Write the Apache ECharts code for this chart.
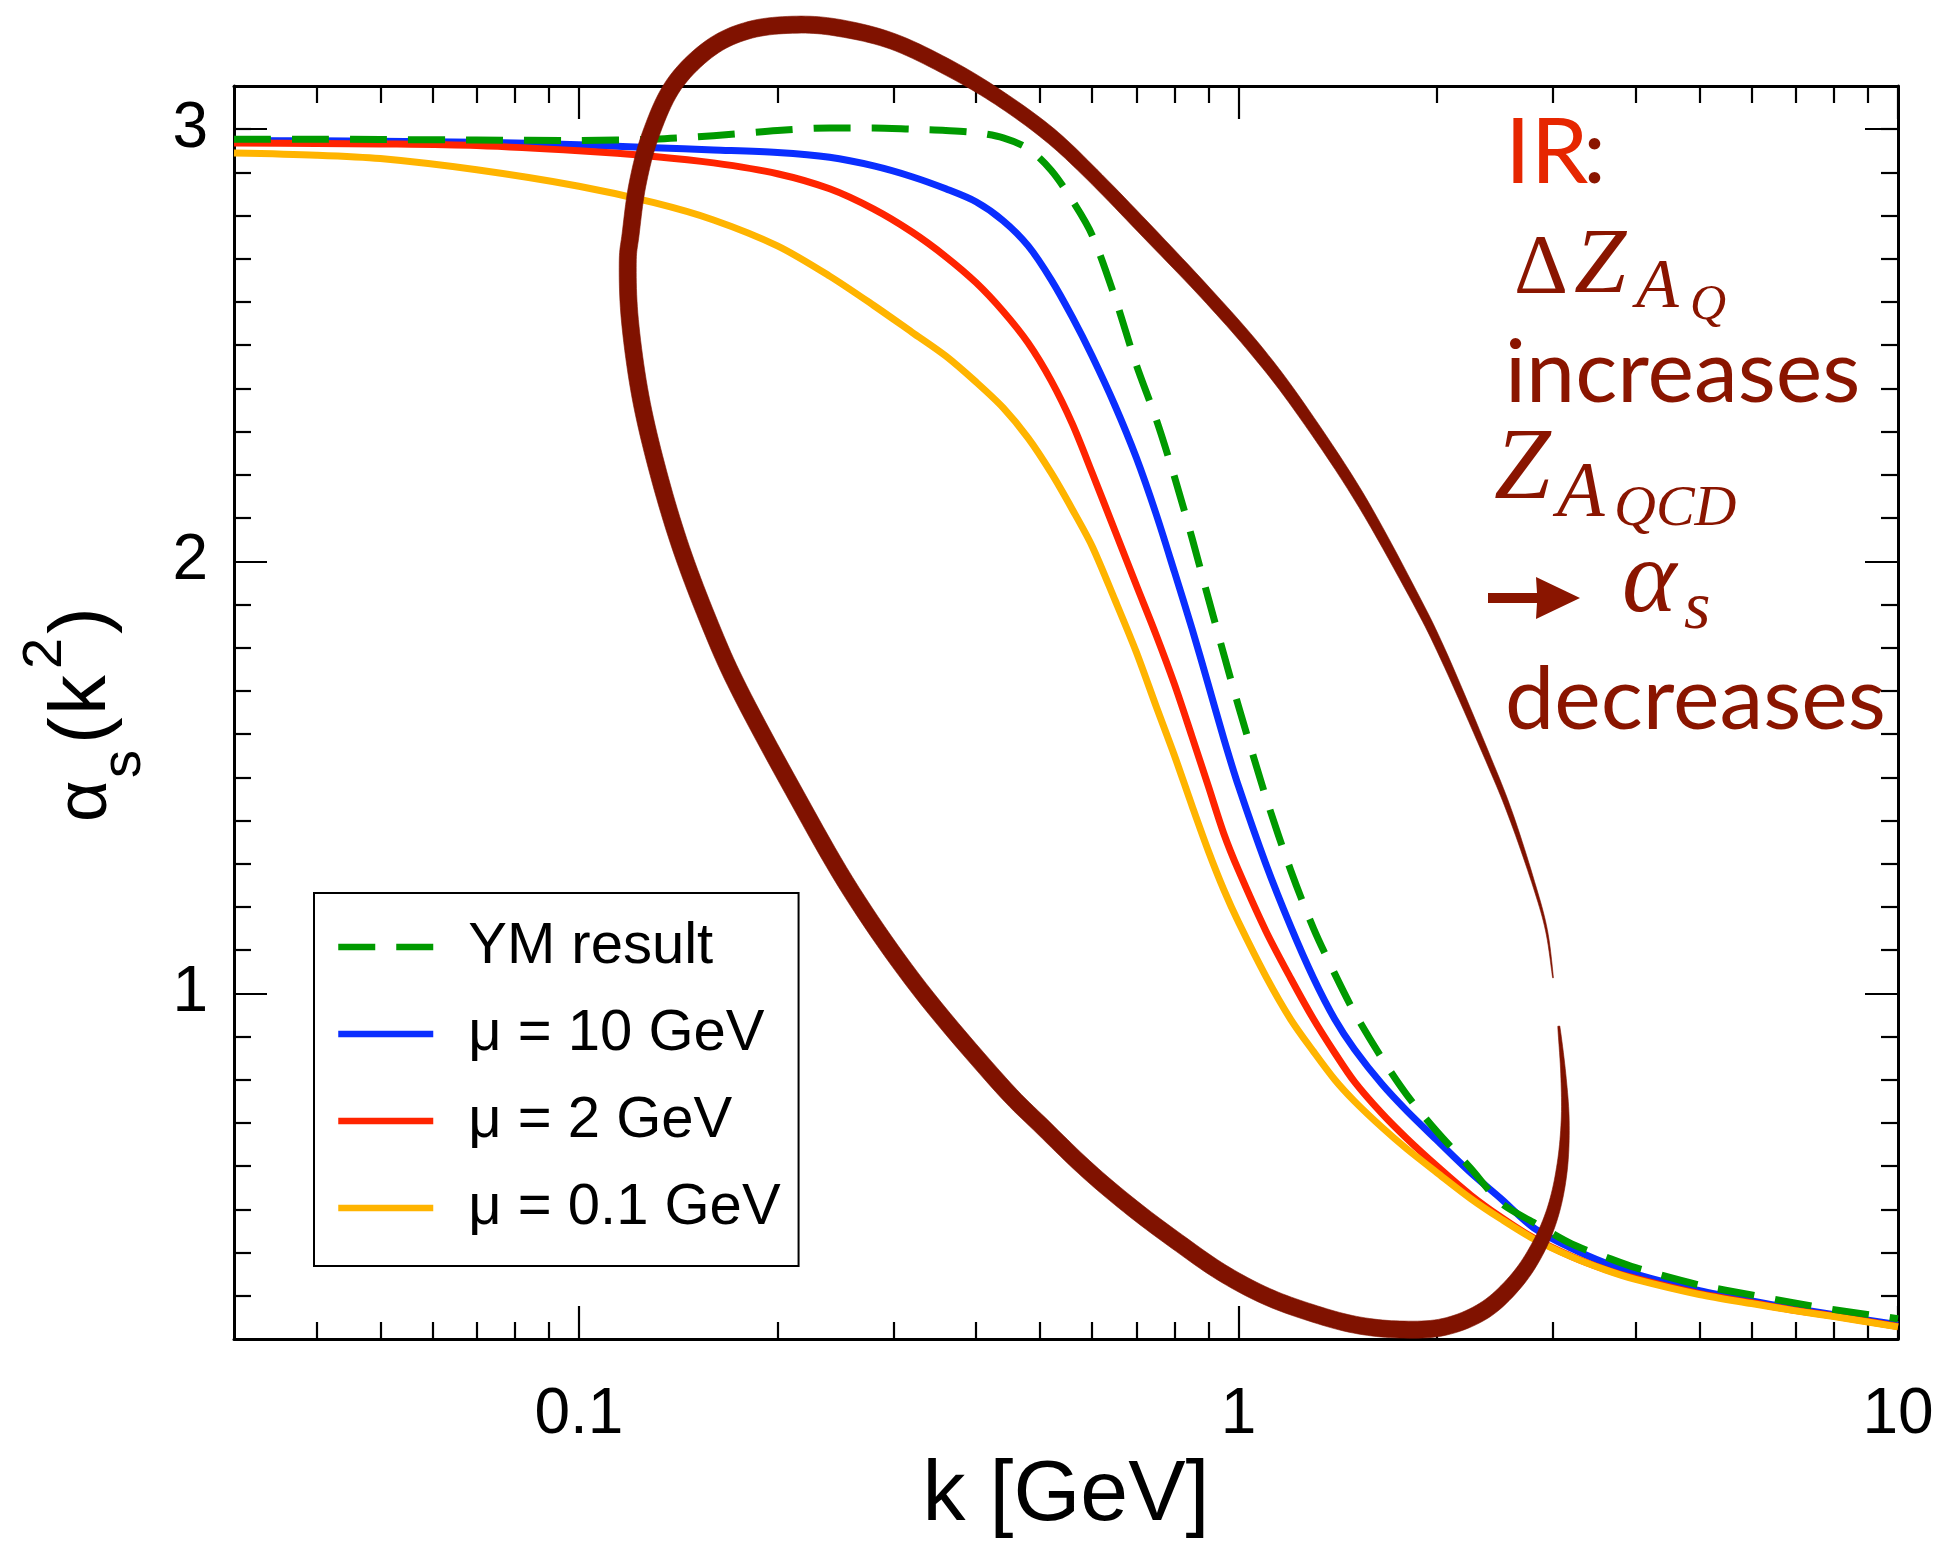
<!DOCTYPE html>
<html><head><meta charset="utf-8">
<script src="https://cdn.jsdelivr.net/npm/echarts@6/dist/echarts.min.js"></script>
<style>html,body{margin:0;padding:0;background:#fff}#c{width:1948px;height:1553px}</style>
</head><body><div id="c"></div>
<script>
// ---- data: k [GeV] grid and alpha_s(k^2) for each curve ----
const kGrid = [0.03, 0.04, 0.05, 0.07, 0.1, 0.13, 0.16, 0.2, 0.24, 0.28, 0.32, 0.36, 0.4, 0.44, 0.48, 0.52, 0.56, 0.6, 0.65, 0.7, 0.75, 0.8, 0.85, 0.9, 0.95, 1.0, 1.1, 1.2, 1.3, 1.4, 1.5, 1.65, 1.8, 2.0, 2.25, 2.5, 2.8, 3.2, 3.6, 4.0, 5.0, 6.0, 7.0, 8.0, 10];

const ymAlpha   = [2.977, 2.977, 2.976, 2.975, 2.974, 2.977, 2.985, 2.997, 3.003, 3.003, 3.0, 2.997, 2.992, 2.98, 2.955, 2.905, 2.835, 2.755, 2.61, 2.455, 2.33, 2.195, 2.055, 1.915, 1.785, 1.665, 1.455, 1.285, 1.15, 1.045, 0.955, 0.85, 0.765, 0.68, 0.595, 0.515, 0.47, 0.42, 0.39, 0.365, 0.325, 0.302, 0.283, 0.268, 0.247];
const mu10Alpha = [2.974, 2.973, 2.972, 2.970, 2.964, 2.957, 2.952, 2.946, 2.935, 2.915, 2.89, 2.862, 2.832, 2.788, 2.73, 2.652, 2.565, 2.475, 2.36, 2.24, 2.11, 1.975, 1.845, 1.715, 1.59, 1.48, 1.30, 1.155, 1.035, 0.94, 0.87, 0.79, 0.728, 0.66, 0.585, 0.525, 0.458, 0.41, 0.376, 0.35, 0.312, 0.288, 0.27, 0.256, 0.233];
const mu2Alpha  = [2.968, 2.967, 2.966, 2.962, 2.95, 2.937, 2.922, 2.897, 2.862, 2.815, 2.762, 2.705, 2.645, 2.578, 2.505, 2.418, 2.318, 2.205, 2.07, 1.945, 1.83, 1.715, 1.595, 1.48, 1.37, 1.285, 1.145, 1.035, 0.94, 0.862, 0.795, 0.722, 0.664, 0.6, 0.533, 0.482, 0.434, 0.391, 0.361, 0.34, 0.305, 0.284, 0.266, 0.253, 0.229];
const mu01Alpha = [2.945, 2.94, 2.932, 2.906, 2.868, 2.83, 2.79, 2.73, 2.66, 2.592, 2.53, 2.475, 2.415, 2.355, 2.285, 2.205, 2.12, 2.035, 1.91, 1.79, 1.665, 1.55, 1.435, 1.33, 1.24, 1.165, 1.04, 0.94, 0.865, 0.8, 0.75, 0.69, 0.64, 0.585, 0.525, 0.478, 0.432, 0.39, 0.36, 0.338, 0.303, 0.282, 0.265, 0.252, 0.228];

const seriesNames = ['YM result', 'μ = 10 GeV', 'μ = 2 GeV', 'μ = 0.1 GeV'];

// tick values
const xMajorTicks = [0.1, 1, 10];
const xMinorTicks = [0.04, 0.05, 0.06, 0.07, 0.08, 0.09, 0.2, 0.3, 0.4, 0.5, 0.6, 0.7, 0.8, 0.9, 2, 3, 4, 5, 6, 7, 8, 9];
const yMajorTicks = [1, 2, 3];
const yMinorTicks = [0.3, 0.4, 0.5, 0.6, 0.7, 0.8, 0.9, 1.1, 1.2, 1.3, 1.4, 1.5, 1.6, 1.7, 1.8, 1.9, 2.1, 2.2, 2.3, 2.4, 2.5, 2.6, 2.7, 2.8, 2.9, 3.0];

// hand-drawn ellipse annotation, in data coordinates (k, alpha)
const annK = [3.06, 3.108, 3.129, 3.094, 2.999, 2.841, 2.629, 2.358, 2.050, 1.755, 1.503, 1.287, 1.102, 0.943, 0.808, 0.692, 0.592, 0.507, 0.434, 0.3283, 0.2594, 0.211, 0.175, 0.1583, 0.143, 0.132, 0.124, 0.1195, 0.1186, 0.1198, 0.1227, 0.1285, 0.1393, 0.1583, 0.1819, 0.214, 0.2488, 0.2995, 0.3647, 0.434, 0.5164, 0.600, 0.731, 0.893, 1.059, 1.232, 1.518, 1.838, 2.050, 2.394, 2.588, 2.797, 2.930, 2.999];
const annA = [0.924, 0.814, 0.705, 0.595, 0.496, 0.409, 0.332, 0.266, 0.228, 0.222, 0.233, 0.261, 0.299, 0.354, 0.425, 0.502, 0.589, 0.688, 0.792, 1.011, 1.234, 1.472, 1.703, 1.851, 2.028, 2.204, 2.381, 2.558, 2.690, 2.757, 2.872, 2.988, 3.103, 3.188, 3.230, 3.242, 3.234, 3.203, 3.141, 3.072, 2.988, 2.895, 2.76, 2.62, 2.492, 2.361, 2.153, 1.925, 1.779, 1.541, 1.412, 1.258, 1.147, 1.036];
const annW = [2, 5, 8, 11, 13, 15, 16, 17, 17, 17, 17, 17, 17, 17, 17, 17, 17, 17, 17, 17, 17, 17, 17, 17, 17, 17, 17, 17, 17, 17, 17, 17, 17, 17, 17, 17, 17, 16, 16, 15, 15, 14, 14, 13, 13, 12, 11, 9, 8, 6, 5, 3, 2, 0.8];

const zip = (a, b) => a.map((v, i) => [v, b[i]]);

const FONT = 'Liberation Sans, Arial, Helvetica, sans-serif';
const frameLine = { show: true, lineStyle: { color: '#000', width: 3 } };
const noLine = { show: false };

function xAxis(pos, ticks, len, withLabels, showLine) {
  const ax = {
    type: 'log', logBase: 10, min: 0.03, max: 10, position: pos,
    axisLine: showLine ? frameLine : noLine,
    axisTick: { show: true, inside: true, length: len, customValues: ticks, lineStyle: { color: '#000', width: 2.2 } },
    axisLabel: { show: false },
    splitLine: { show: false }, minorTick: { show: false }, minorSplitLine: { show: false }
  };
  if (withLabels) {
    ax.axisLabel = { show: true, customValues: xMajorTicks, margin: 44, color: '#000', fontSize: 64, fontFamily: FONT,
      formatter: v => (Math.abs(v - 0.1) < 1e-9 ? '0.1' : String(Math.round(v))) };
    ax.name = 'k [GeV]';
    ax.nameLocation = 'middle';
    ax.nameGap = 114;
    ax.nameTextStyle = { fontSize: 86, fontFamily: FONT, color: '#000' };
  }
  return ax;
}
function yAxis(pos, ticks, len, withLabels, showLine) {
  const ax = {
    type: 'value', min: 0.2, max: 3.1, position: pos,
    axisLine: showLine ? frameLine : noLine,
    axisTick: { show: true, inside: true, length: len, customValues: ticks, lineStyle: { color: '#000', width: 2.2 } },
    axisLabel: { show: false },
    splitLine: { show: false }, minorTick: { show: false }
  };
  if (withLabels) {
    ax.axisLabel = { show: true, customValues: yMajorTicks, margin: 26, color: '#000', fontSize: 64, fontFamily: FONT };
  }
  return ax;
}

function lineSeries(name, alpha, color, dashed, z) {
  return {
    type: 'line', name: name, data: zip(kGrid, alpha), xAxisIndex: 0, yAxisIndex: 0,
    showSymbol: false, symbol: 'none', smooth: 0.3, z: z,
    lineStyle: { color: color, width: 7, type: dashed ? [37, 21] : 'solid', cap: 'butt', join: 'round' },
    itemStyle: { color: color },
    emphasis: { disabled: true }, animation: false
  };
}

const chart = echarts.init(document.getElementById('c'), null, { renderer: 'canvas' });

const darkRed = '#8a1500';
function t(text, x, baseline, size, family, color, italic) {
  return { type: 'text', x: x, y: baseline - 0.35 * size, silent: true, z: 100,
    style: { text: text, fill: color, fontSize: size, fontFamily: family, fontStyle: italic ? 'italic' : 'normal',
      align: 'left', verticalAlign: 'middle' } };
}
const SANS2 = 'Lato, "Open Sans", sans-serif';
const SERIF = '"Liberation Serif", "DejaVu Serif", serif';

const option = {
  animation: false,
  backgroundColor: '#fff',
  grid: { left: 234, right: 50, top: 86, bottom: 214, containLabel: false },
  xAxis: [
    xAxis('bottom', xMajorTicks, 33, true, true),
    xAxis('bottom', xMinorTicks, 17, false, false),
    xAxis('top', xMajorTicks, 33, false, true),
    xAxis('top', xMinorTicks, 17, false, false)
  ],
  yAxis: [
    yAxis('left', yMajorTicks, 33, true, true),
    yAxis('left', yMinorTicks, 17, false, false),
    yAxis('right', yMajorTicks, 33, false, true),
    yAxis('right', yMinorTicks, 17, false, false)
  ],
  legend: {
    show: true, orient: 'vertical', left: 314, top: 893,
    data: seriesNames,
    itemWidth: 95, itemHeight: 20, itemGap: 27,
    padding: [24, 18, 28, 21],
    borderColor: '#000', borderWidth: 2, backgroundColor: '#fff',
    itemStyle: { opacity: 0 },
    lineStyle: { width: 6.5 },
    textStyle: { fontSize: 58, fontFamily: FONT, color: '#000', lineHeight: 60, padding: [0, 0, 0, 30] },
    selectedMode: false
  },
  series: [
    lineSeries(seriesNames[1], mu10Alpha, '#0a2eff', false, 2),
    lineSeries(seriesNames[2], mu2Alpha, '#ff2400', false, 3),
    lineSeries(seriesNames[3], mu01Alpha, '#ffb400', false, 4),
    lineSeries(seriesNames[0], ymAlpha, '#009a00', true, 5),
    {
      type: 'custom', name: 'annotation', coordinateSystem: 'cartesian2d', xAxisIndex: 0, yAxisIndex: 0,
      clip: false, silent: true, z: 20, animation: false,
      data: [[annK[0], annA[0]]],
      renderItem: function (params, api) {
        const P = annK.map((k, i) => api.coord([k, annA[i]]));
        const pts = [], ws = [];
        const n = P.length;
        for (let i = 0; i < n - 1; i++) {
          const p0 = P[Math.max(i - 1, 0)], p1 = P[i], p2 = P[i + 1], p3 = P[Math.min(i + 2, n - 1)];
          const steps = 10;
          for (let s = 0; s < steps; s++) {
            const tt = s / steps, t2 = tt * tt, t3 = t2 * tt;
            const c = j => 0.5 * ((2 * p1[j]) + (-p0[j] + p2[j]) * tt + (2 * p0[j] - 5 * p1[j] + 4 * p2[j] - p3[j]) * t2 + (-p0[j] + 3 * p1[j] - 3 * p2[j] + p3[j]) * t3);
            pts.push([c(0), c(1)]);
            ws.push(annW[i] + (annW[i + 1] - annW[i]) * tt);
          }
        }
        pts.push(P[n - 1]); ws.push(annW[n - 1]);
        const L = [], R = [];
        for (let i = 0; i < pts.length; i++) {
          const a = pts[Math.max(i - 1, 0)], b = pts[Math.min(i + 1, pts.length - 1)];
          let tx = b[0] - a[0], ty = b[1] - a[1];
          const len = Math.hypot(tx, ty) || 1;
          const nx = -ty / len, ny = tx / len, h = ws[i] / 2;
          L.push([pts[i][0] + nx * h, pts[i][1] + ny * h]);
          R.push([pts[i][0] - nx * h, pts[i][1] - ny * h]);
        }
        return { type: 'polygon', shape: { points: L.concat(R.reverse()) }, style: { fill: '#801200', stroke: '#801200', lineWidth: 0.6 } };
      }
    }
  ],
  graphic: [
    // y-axis title, rotated
    { type: 'group', x: 111, y: 822, rotation: Math.PI / 2, silent: true, children: [
      t('α', 0, 0, 72, FONT, '#000', false),
      t('s', 44, 33, 56, FONT, '#000', false),
      t('(', 78, 0, 80, FONT, '#000', false),
      t('k', 107, 0, 80, FONT, '#000', false),
      t('2', 153, -46, 56, FONT, '#000', false),
      t(')', 188, 0, 80, FONT, '#000', false)
    ]},
    // right annotation
    t('IR', 1505, 186, 92, SANS2, '#e62600', false),
    t(':', 1583, 186, 92, SANS2, darkRed, false),
    t('Δ', 1514, 300, 84, SERIF, darkRed, false),
    t('Z', 1574, 300, 94, SERIF, darkRed, true),
    t('A', 1636, 313, 70, SERIF, darkRed, true),
    t('Q', 1690, 323, 50, SERIF, darkRed, true),
    t('increases', 1505, 404, 88, SANS2, darkRed, false),
    t('Z', 1494, 507, 102, SERIF, darkRed, true),
    t('A', 1557, 522, 78, SERIF, darkRed, true),
    t('QCD', 1614, 530, 58, SERIF, darkRed, true),
    { type: 'polygon', silent: true, z: 100, shape: { points: [[1488, 593], [1537, 593], [1536, 577], [1580, 598], [1536, 619], [1537, 603], [1488, 603]] }, style: { fill: darkRed } },
    t('α', 1622, 620, 104, SERIF, darkRed, true),
    t('s', 1684, 634, 68, SERIF, darkRed, true),
    t('decreases', 1505, 731, 88, SANS2, darkRed, false)
  ]
};
chart.setOption(option);
</script></body></html>
